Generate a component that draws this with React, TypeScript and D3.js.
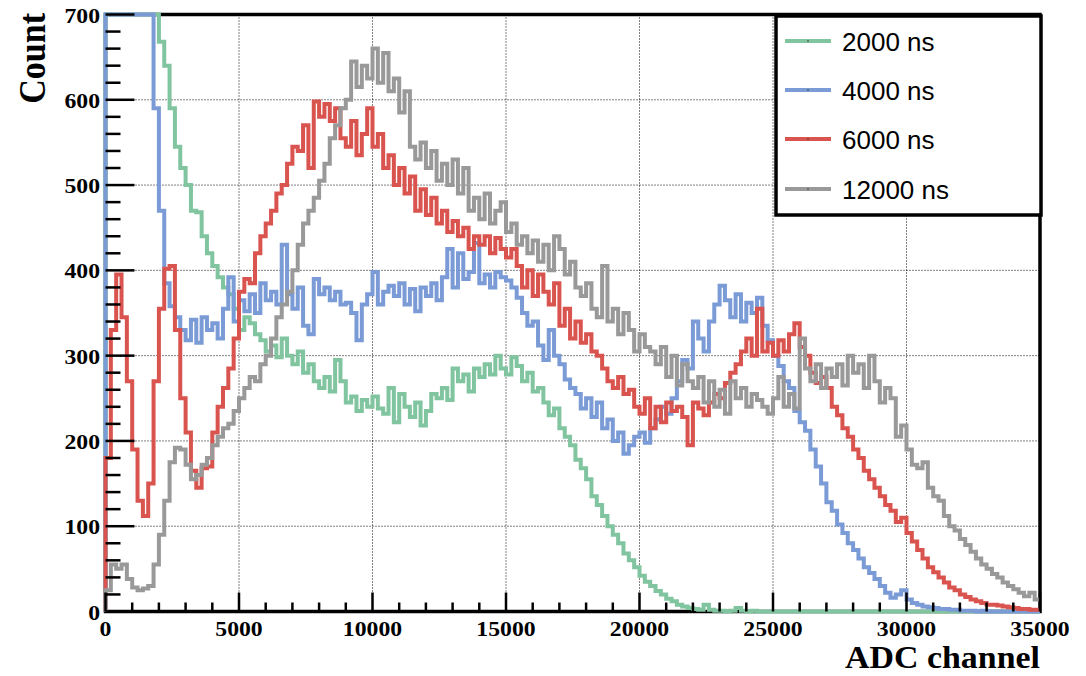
import React from 'react';
import * as d3 from 'd3';

const BIN_WIDTH = 200;
const X_MAX = 35000;
const Y_MAX = 700;

const seriesNames = ['2000 ns', '4000 ns', '6000 ns', '12000 ns'];
const seriesColors = ['#80c4a0', '#7b9bd6', '#d9544f', '#999999'];

const counts2000 = [
  850, 900, 950, 950, 920, 900, 880, 850, 780, 705,
  668, 640, 590, 545, 520, 500, 470, 468, 440, 420,
  405, 392, 380, 372, 355, 330, 345, 338, 325, 318,
  305, 312, 298, 320, 300, 290, 305, 280, 290, 270,
  262, 275, 258, 295, 270, 245, 252, 235, 248, 240,
  252, 238, 232, 262, 222, 255, 240, 228, 245, 218,
  235, 255, 250, 262, 248, 285, 270, 278, 258, 285,
  275, 290, 278, 300, 285, 278, 298, 288, 270, 280,
  258, 262, 245, 230, 238, 215, 205, 195, 178, 168,
  155, 135, 125, 112, 100, 90, 80, 68, 60, 52,
  42, 35, 30, 24, 20, 15, 12, 8, 6, 4,
  3, 2, 8, 2, 1, 1, 0, 1, 4, 1,
  0, 1, 0, 0, 0, 0, 0, 0, 0, 0,
  0, 0, 0, 0, 0, 0, 0, 0, 0, 0,
  0, 0, 0, 0, 0, 0, 0, 0, 0, 0,
  0, 0, 0, 0, 0, 0, 0, 0, 0, 0,
  0, 0, 0, 0, 0, 0, 0, 0, 0, 0,
  0, 0, 0, 0, 0,
];

const counts4000 = [
  900, 950, 1000, 1000, 980, 950, 900, 820, 705, 590,
  470, 385, 358, 345, 330, 318, 342, 315, 345, 330,
  338, 320, 355, 392, 340, 365, 352, 372, 350, 385,
  365, 375, 360, 430, 372, 355, 380, 335, 325, 390,
  372, 380, 365, 375, 360, 362, 350, 318, 360, 372,
  398, 360, 375, 382, 370, 385, 360, 378, 352, 380,
  370, 385, 365, 392, 425, 380, 420, 390, 398, 432,
  385, 395, 380, 398, 392, 388, 380, 368, 350, 335,
  340, 312, 295, 330, 300, 290, 272, 262, 255, 238,
  250, 228, 245, 215, 225, 200, 210, 185, 195, 205,
  210, 198, 215, 225, 240, 232, 250, 270, 295, 285,
  340, 320, 305, 340, 360, 382, 365, 345, 372, 340,
  362, 350, 368, 335, 318, 300, 288, 270, 262, 235,
  222, 212, 190, 170, 150, 128, 118, 102, 92, 80,
  72, 62, 52, 45, 38, 30, 22, 16, 20, 25,
  14, 10, 8, 6, 5, 4, 3, 3, 2, 2,
  1, 1, 1, 0, 1, 0, 0, 0, 0, 0,
  0, 0, 0, 0, 0,
];

const counts6000 = [
  180, 330, 395, 345, 270, 190, 130, 112, 150, 270,
  355, 402, 405, 330, 250, 210, 165, 145, 168, 170,
  210, 240, 262, 285, 320, 375, 390, 385, 420, 440,
  455, 470, 490, 500, 525, 545, 540, 570, 520, 598,
  580, 595, 575, 590, 555, 545, 575, 535, 560, 590,
  545, 560, 520, 535, 500, 520, 490, 510, 470, 495,
  465, 485, 455, 470, 445, 458, 440, 450, 425, 440,
  430, 440, 420, 438, 425, 415, 425, 405, 380, 400,
  370, 395, 375, 360, 385, 335, 355, 320, 340, 315,
  325, 305, 300, 285, 270, 262, 275, 255, 260, 240,
  232, 250, 215, 240, 222, 245, 235, 240, 228, 195,
  245, 238, 230, 245, 255, 250, 268, 280, 290, 305,
  320, 300, 355, 305, 315, 300, 318, 305, 325, 338,
  310, 300, 280, 268, 275, 262, 240, 230, 215, 205,
  190, 180, 165, 155, 145, 135, 125, 118, 105, 110,
  92, 82, 72, 62, 52, 46, 40, 34, 28, 25,
  20, 17, 14, 12, 10, 8, 8, 7, 6, 5,
  4, 3, 3, 2, 2,
];

const counts12000 = [
  25, 55, 50, 55, 38, 28, 25, 27, 30, 55,
  90, 130, 175, 192, 190, 172, 155, 160, 172, 180,
  195, 205, 215, 220, 235, 250, 262, 275, 270, 290,
  300, 320, 345, 360, 375, 400, 430, 455, 470, 485,
  505, 525, 555, 570, 590, 600, 645, 615, 640, 625,
  660, 620, 655, 610, 625, 585, 610, 545, 530, 550,
  520, 540, 505, 525, 500, 530, 490, 520, 470, 485,
  460, 490, 455, 470, 480, 445, 455, 430, 440, 420,
  435, 410, 430, 400, 440, 425, 395, 410, 380, 370,
  385, 355, 345, 405, 340, 355, 325, 350, 330, 305,
  325, 310, 305, 290, 310, 275, 300, 265, 290, 270,
  262, 275, 245, 270, 240, 260, 232, 270, 250, 262,
  240, 255, 248, 240, 232, 250, 275, 240, 255, 238,
  320, 285, 270, 290, 262, 285, 275, 290, 265, 300,
  280, 290, 262, 300, 270, 245, 262, 250, 205, 218,
  190, 172, 168, 175, 145, 135, 130, 112, 100, 95,
  85, 78, 70, 62, 55, 50, 44, 40, 34, 30,
  26, 22, 18, 22, 14,
];

const seriesValues = [counts2000, counts4000, counts6000, counts12000];

const xMajorTicks = [0, 5000, 10000, 15000, 20000, 25000, 30000, 35000];
const yMajorTicks = [0, 100, 200, 300, 400, 500, 600, 700];
const X_MINOR_STEP = 1000;
const Y_MINOR_STEP = 20;

const SERIF = '"Liberation Serif", "Times New Roman", serif';
const SANS = '"Liberation Sans", Arial, sans-serif';

export default function App() {
  const W = 1086;
  const H = 676;
  const x = d3.scaleLinear().domain([0, X_MAX]).range([105.5, 1040]);
  const y = d3.scaleLinear().domain([0, Y_MAX]).range([611.5, 14.5]).clamp(true);

  const line = d3
    .line<[number, number]>()
    .x((d) => x(d[0]))
    .y((d) => y(d[1]));

  const pathFor = (vals: number[]) => {
    const pts: [number, number][] = [[0, 0]];
    vals.forEach((v, i) => {
      pts.push([i * BIN_WIDTH, v]);
      pts.push([(i + 1) * BIN_WIDTH, v]);
    });
    return line(pts) || '';
  };

  const xMinor = d3.range(0, X_MAX + 1, X_MINOR_STEP).filter((v) => !xMajorTicks.includes(v));
  const yMinor = d3.range(0, Y_MAX + 1, Y_MINOR_STEP).filter((v) => !yMajorTicks.includes(v));

  const legendX = 776;
  const legendY = 16;
  const legendW = 265;
  const legendH = 199;
  const legendRows = [41, 90, 139, 189];

  return (
    <svg
      width={W}
      height={H}
      viewBox={`0 0 ${W} ${H}`}
      style={{ position: 'absolute', left: 0, top: 0, background: '#fff' }}
    >
      <rect x={0} y={0} width={W} height={H} fill="#fff" />
      {/* grid */}
      <g stroke="#000" strokeWidth={1} strokeDasharray="1 2" fill="none">
        {xMajorTicks
          .filter((t) => t > 0 && t < X_MAX)
          .map((t) => (
            <line key={'gx' + t} x1={x(t)} x2={x(t)} y1={y(Y_MAX)} y2={y(0)} />
          ))}
        {yMajorTicks
          .filter((t) => t > 0 && t < Y_MAX)
          .map((t) => (
            <line key={'gy' + t} x1={x(0)} x2={x(X_MAX)} y1={y(t)} y2={y(t)} />
          ))}
      </g>
      {/* frame */}
      <rect
        x={x(0)}
        y={y(Y_MAX)}
        width={x(X_MAX) - x(0)}
        height={y(0) - y(Y_MAX)}
        fill="none"
        stroke="#000"
        strokeWidth={3.5}
      />
      {/* histograms */}
      {seriesValues.map((vals, i) => (
        <path
          key={'h' + i}
          d={pathFor(vals)}
          fill="none"
          stroke={seriesColors[i]}
          strokeWidth={4}
          strokeLinejoin="miter"
        />
      ))}
      {/* ticks */}
      <g stroke="#000" strokeWidth={2.5}>
        {yMajorTicks.map((t) => (
          <line key={'ty' + t} x1={x(0)} x2={x(0) + 29} y1={y(t)} y2={y(t)} />
        ))}
        {yMinor.map((t) => (
          <line key={'tym' + t} x1={x(0)} x2={x(0) + 15} y1={y(t)} y2={y(t)} />
        ))}
        {xMajorTicks.map((t) => (
          <line key={'tx' + t} x1={x(t)} x2={x(t)} y1={y(0)} y2={y(0) - 19} />
        ))}
        {xMinor.map((t) => (
          <line key={'txm' + t} x1={x(t)} x2={x(t)} y1={y(0)} y2={y(0) - 9} />
        ))}
      </g>
      {/* tick labels */}
      <g fontFamily={SERIF} fontWeight="bold" fontSize={21} fill="#000">
        {yMajorTicks.map((t) => (
          <text
            key={'ly' + t}
            transform={`translate(100,${y(t) + 8}) scale(1.13,1)`}
            textAnchor="end"
          >
            {String(t)}
          </text>
        ))}
        {xMajorTicks.map((t) => (
          <text
            key={'lx' + t}
            transform={`translate(${x(t)},636) scale(1.13,1)`}
            textAnchor="middle"
          >
            {String(t)}
          </text>
        ))}
      </g>
      {/* axis titles */}
      <text
        transform="translate(1040,668) scale(1.06,1)"
        textAnchor="end"
        fontFamily={SERIF}
        fontWeight="bold"
        fontSize={32}
      >
        ADC channel
      </text>
      <text
        transform="translate(45,13) scale(1.13,1) rotate(-90)"
        textAnchor="end"
        fontFamily={SERIF}
        fontWeight="bold"
        fontSize={34}
      >
        Count
      </text>
      {/* legend */}
      <rect
        x={legendX}
        y={legendY}
        width={legendW}
        height={legendH}
        fill="#fff"
        stroke="#000"
        strokeWidth={3.5}
      />
      {seriesNames.map((name, i) => (
        <g key={'lg' + i}>
          <line
            x1={785}
            x2={831}
            y1={legendRows[i]}
            y2={legendRows[i]}
            stroke={seriesColors[i]}
            strokeWidth={4}
          />
          <circle cx={808} cy={legendRows[i]} r={0.8} fill="#333" />
          <text
            x={842}
            y={legendRows[i] + 9.5}
            fontFamily={SANS}
            fontSize={26}
            fill="#000"
          >
            {name}
          </text>
        </g>
      ))}
    </svg>
  );
}
